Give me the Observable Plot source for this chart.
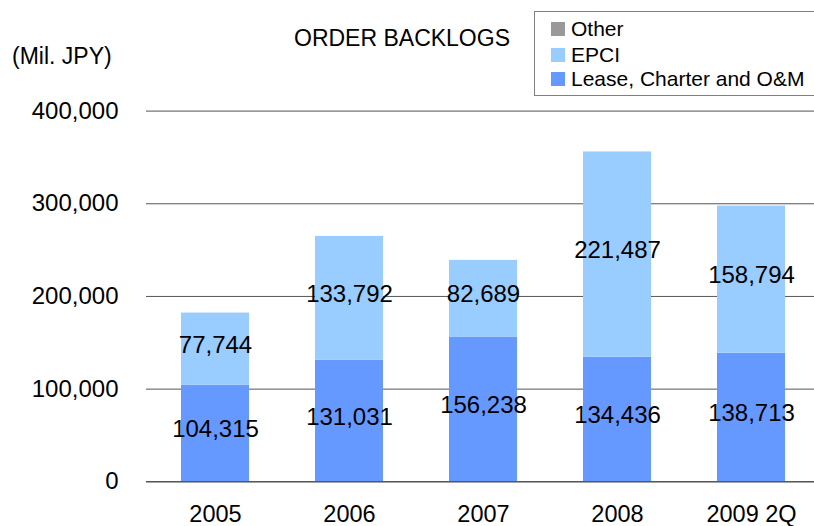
<!DOCTYPE html>
<html>
<head>
<meta charset="utf-8">
<script src="https://cdn.jsdelivr.net/npm/d3@7"></script>
<script src="https://cdn.jsdelivr.net/npm/@observablehq/plot@0.6"></script>
<style>
  html, body { margin: 0; padding: 0; background: #fff; }
  body { width: 814px; height: 526px; overflow: hidden; position: relative; font-family: "Liberation Sans", Arial, sans-serif; color: #000; }
  #chart { position: absolute; left: 0; top: 0; }
  .abs { position: absolute; white-space: nowrap; line-height: 1; }
  #legend { position: absolute; left: 534px; top: 11px; width: 300px; height: 85px; border: 1px solid #808080; box-sizing: border-box; background: #fff; }
  .item { position: absolute; left: 16px; height: 24px; display: flex; align-items: center; font-size: 21px; }
  .sw { width: 14px; height: 14px; margin-right: 6px; flex: none; }
</style>
</head>
<body>
<div id="chart"></div>
<div class="abs" id="title" style="left:294px; top:27px; font-size:23px;">ORDER BACKLOGS</div>
<div class="abs" id="unit" style="left:12px; top:45px; font-size:23px;">(Mil. JPY)</div>
<div id="legend"></div>
<script>
const categories = ["2005", "2006", "2007", "2008", "2009 2Q"];
const series = ["Lease, Charter and O&M", "EPCI", "Other"];
const leaseValues = [104315, 131031, 156238, 134436, 138713];
const epciValues = [77744, 133792, 82689, 221487, 158794];
const otherValues = [0, 0, 0, 0, 0];
const yTicks = [0, 100000, 200000, 300000, 400000];
const colors = ["#6699FF", "#99CCFF", "#999999"];

const valuesBySeries = [leaseValues, epciValues, otherValues];
const rows = [];
categories.forEach((cat, i) => {
  let base = 0;
  series.forEach((s, j) => {
    const v = valuesBySeries[j][i];
    rows.push({cat, series: s, value: v, y1: base, y2: base + v, mid: base + v / 2});
    base += v;
  });
});

const fmt = d3.format(",");
const W = 814, H = 526;
const chart = Plot.plot({
  width: W,
  height: H,
  marginLeft: 146,
  marginRight: 0,
  marginTop: 110.6,
  marginBottom: 44.7,
  style: {fontFamily: "'Liberation Sans', Arial, sans-serif", fontSize: "24px", color: "#000", background: "#fff", overflow: "visible"},
  x: {domain: categories, range: [146.75, 819.25], paddingInner: 0.495, paddingOuter: 0.2475, label: null},
  y: {domain: [0, 400000], label: null},
  color: {domain: series, range: colors},
  marks: [
    Plot.ruleY(yTicks, {stroke: "#555", strokeWidth: 1}),
    Plot.barY(rows, {x: "cat", y1: "y1", y2: "y2", fill: "series"}),
    Plot.ruleY([0], {stroke: "#444", strokeWidth: 1}),
    Plot.text(rows.filter(d => d.value > 0), {x: "cat", y: "mid", text: d => fmt(d.value), fontSize: 24, fill: "#000", dy: -4}),
    Plot.axisY({ticks: yTicks, tickSize: 0, tickPadding: 28, tickFormat: d => fmt(d), fontSize: 24, label: null}),
    Plot.axisX({tickSize: 0, tickPadding: 24, fontSize: 23.5, label: null})
  ]
});
document.getElementById("chart").appendChild(chart);

const legend = document.getElementById("legend");
const legendOrder = ["Other", "EPCI", "Lease, Charter and O&M"];
const legendTops = [5, 31, 55];
legendOrder.forEach((name, k) => {
  const it = document.createElement("div");
  it.className = "item";
  it.style.top = legendTops[k] + "px";
  const sw = document.createElement("span");
  sw.className = "sw";
  sw.style.background = colors[series.indexOf(name)];
  const tx = document.createElement("span");
  tx.textContent = name;
  it.appendChild(sw);
  it.appendChild(tx);
  legend.appendChild(it);
});
</script>
</body>
</html>
